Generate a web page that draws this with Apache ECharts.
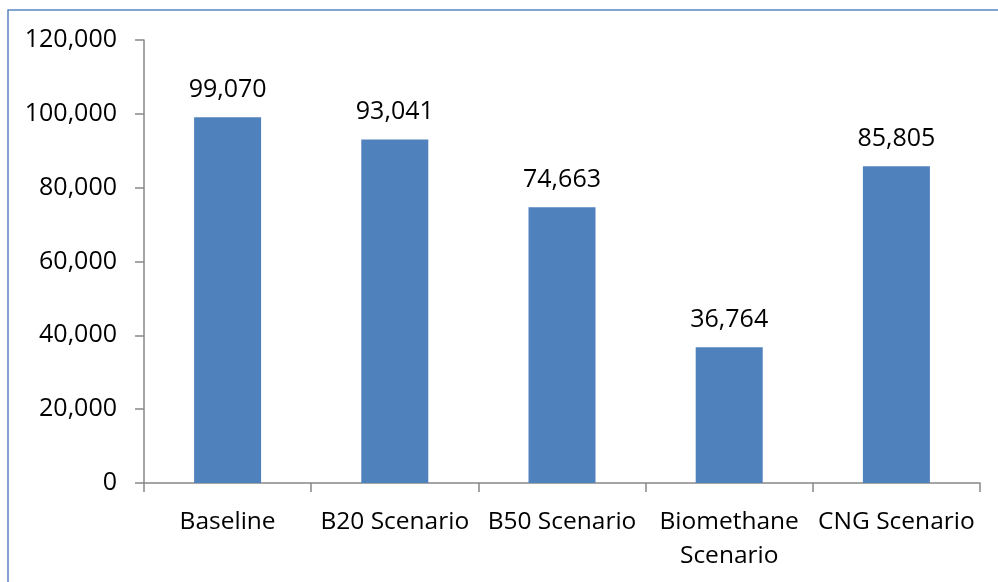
<!DOCTYPE html>
<html>
<head>
<meta charset="utf-8">
<script src="https://cdn.jsdelivr.net/npm/echarts@6/dist/echarts.min.js"></script>
<style>
  html, body { margin: 0; padding: 0; background: #fff; }
  #chart { width: 998px; height: 582px; }
</style>
</head>
<body>
<div id="chart"></div>
<script>
// scenario names and values
const categories = ['Baseline', 'B20 Scenario', 'B50 Scenario', 'Biomethane\nScenario', 'CNG Scenario'];
const values = [99070, 93041, 74663, 36764, 85805];
const yTicks = { min: 0, max: 120000, interval: 20000 };

const fmt = (v) => Number(v).toLocaleString('en-US');
const font = 'Open Sans';

const chart = echarts.init(document.getElementById('chart'));
chart.setOption({
    animation: false,
    grid: { left: 144, right: 18, top: 40, bottom: 99 },
    graphic: [{
        type: 'rect',
        shape: { x: 8, y: 10, width: 1100, height: 700 },
        style: { fill: 'none', stroke: '#5b87c2', lineWidth: 1.5 },
        silent: true
    }],
    xAxis: {
        type: 'category',
        data: categories,
        axisLine: { lineStyle: { color: '#888', width: 1.5 } },
        axisTick: { show: true, length: 9, lineStyle: { color: '#888', width: 1.5 } },
        axisLabel: { color: '#000', fontSize: 24.5, fontFamily: font, margin: 22, lineHeight: 34, interval: 0 }
    },
    yAxis: {
        type: 'value',
        min: yTicks.min, max: yTicks.max, interval: yTicks.interval,
        splitLine: { show: false },
        axisLine: { show: true, lineStyle: { color: '#888', width: 1.5 } },
        axisTick: { show: true, length: 9, lineStyle: { color: '#888', width: 1.5 } },
        axisLabel: { color: '#000', fontSize: 25, fontFamily: font, margin: 27, formatter: fmt }
    },
    series: [{
        type: 'bar',
        data: values,
        barWidth: 67,
        itemStyle: { color: '#4f81bd' },
        label: {
            show: true, position: 'top', distance: 15,
            color: '#000', fontSize: 25, fontFamily: font,
            formatter: (p) => fmt(p.value)
        }
    }]
});
</script>
</body>
</html>
